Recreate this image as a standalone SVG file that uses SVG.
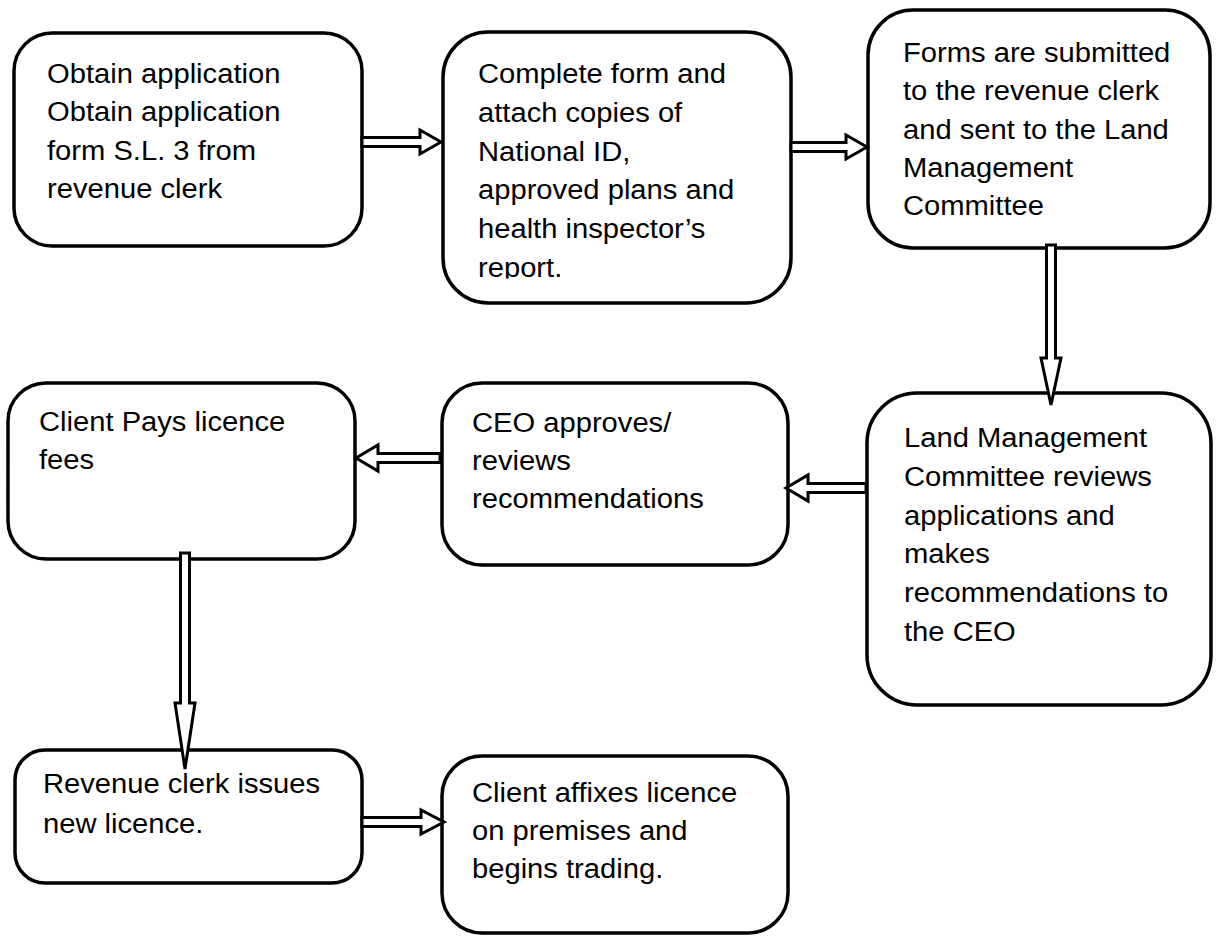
<svg xmlns="http://www.w3.org/2000/svg" width="1218" height="936" viewBox="0 0 1218 936">
<style>
.box{fill:#fff;stroke:#000;stroke-width:3.5}
.arr{fill:#fff;stroke:#000;stroke-width:3;stroke-linejoin:miter}
.t{font-family:"Liberation Sans",Arial,sans-serif;font-size:27px;fill:#000}
</style>
<defs>
<clipPath id="c2"><rect x="443" y="32" width="348" height="246.5"/></clipPath>
</defs>
<rect width="1218" height="936" fill="#fff"/>
<g id="n1">
<rect class="box" x="14" y="33" width="348" height="213" rx="38"/>
<text class="t" transform="translate(47,83) scale(1.08,1)"><tspan x="0" y="0">Obtain application</tspan><tspan x="0" y="38.3">Obtain application</tspan><tspan x="0" y="76.6">form S.L. 3 from</tspan><tspan x="0" y="115">revenue clerk</tspan></text>
</g>
<g id="n2">
<rect class="box" x="443" y="32" width="348" height="271" rx="45"/>
<g clip-path="url(#c2)">
<text class="t" transform="translate(478,83) scale(1.08,1)"><tspan x="0" y="0">Complete form and</tspan><tspan x="0" y="38.8">attach copies of</tspan><tspan x="0" y="77.6">National ID,</tspan><tspan x="0" y="116.4">approved plans and</tspan><tspan x="0" y="155.2">health inspector’s</tspan><tspan x="0" y="194">report.</tspan></text>
</g>
</g>
<g id="n3">
<rect class="box" x="868" y="10" width="342" height="238" rx="45"/>
<text class="t" transform="translate(903,62) scale(1.08,1)"><tspan x="0" y="0">Forms are submitted</tspan><tspan x="0" y="38.3">to the revenue clerk</tspan><tspan x="0" y="76.6">and sent to the Land</tspan><tspan x="0" y="115">Management</tspan><tspan x="0" y="153.3">Committee</tspan></text>
</g>
<g id="n4">
<rect class="box" x="867" y="393" width="344" height="312" rx="50"/>
<text class="t" transform="translate(904,447) scale(1.08,1)"><tspan x="0" y="0">Land Management</tspan><tspan x="0" y="38.8">Committee reviews</tspan><tspan x="0" y="77.6">applications and</tspan><tspan x="0" y="116.4">makes</tspan><tspan x="0" y="155.2">recommendations to</tspan><tspan x="0" y="194">the CEO</tspan></text>
</g>
<g id="n5">
<rect class="box" x="442" y="383" width="346" height="182" rx="40"/>
<text class="t" transform="translate(472,432) scale(1.08,1)"><tspan x="0" y="0">CEO approves/</tspan><tspan x="0" y="38">reviews</tspan><tspan x="0" y="76">recommendations</tspan></text>
</g>
<g id="n6">
<rect class="box" x="8" y="383" width="347" height="176" rx="38"/>
<text class="t" transform="translate(39,431) scale(1.08,1)"><tspan x="0" y="0">Client Pays licence</tspan><tspan x="0" y="38">fees</tspan></text>
</g>
<g id="n7">
<rect class="box" x="15" y="750" width="347" height="133" rx="30"/>
<text class="t" transform="translate(43,793) scale(1.08,1)"><tspan x="0" y="0">Revenue clerk issues</tspan><tspan x="0" y="40">new licence.</tspan></text>
</g>
<g id="n8">
<rect class="box" x="442" y="756" width="346" height="177" rx="40"/>
<text class="t" transform="translate(472,802) scale(1.08,1)"><tspan x="0" y="0">Client affixes licence</tspan><tspan x="0" y="38">on premises and</tspan><tspan x="0" y="76">begins trading.</tspan></text>
</g>
<g id="connectors">
<polygon class="arr" points="362,137.5 420,137.5 420,130 441,142 420,154 420,146.5 362,146.5"/>
<polygon class="arr" points="791,142.5 846,142.5 846,135 867,147 846,159 846,151.5 791,151.5"/>
<polygon class="arr" points="1046.5,245 1046.5,358 1041,358 1051,405 1061,358 1055.5,358 1055.5,245"/>
<polygon class="arr" points="866,483.5 808,483.5 808,475 786,488 808,501 808,492.5 866,492.5"/>
<polygon class="arr" points="440,453.5 378,453.5 378,445 356,458 378,471 378,462.5 440,462.5"/>
<polygon class="arr" points="180.5,553 180.5,703 175,703 185,769 195,703 189.5,703 189.5,553"/>
<polygon class="arr" points="362,817.5 421,817.5 421,810 444,822 421,834 421,826.5 362,826.5"/>
</g>
</svg>
